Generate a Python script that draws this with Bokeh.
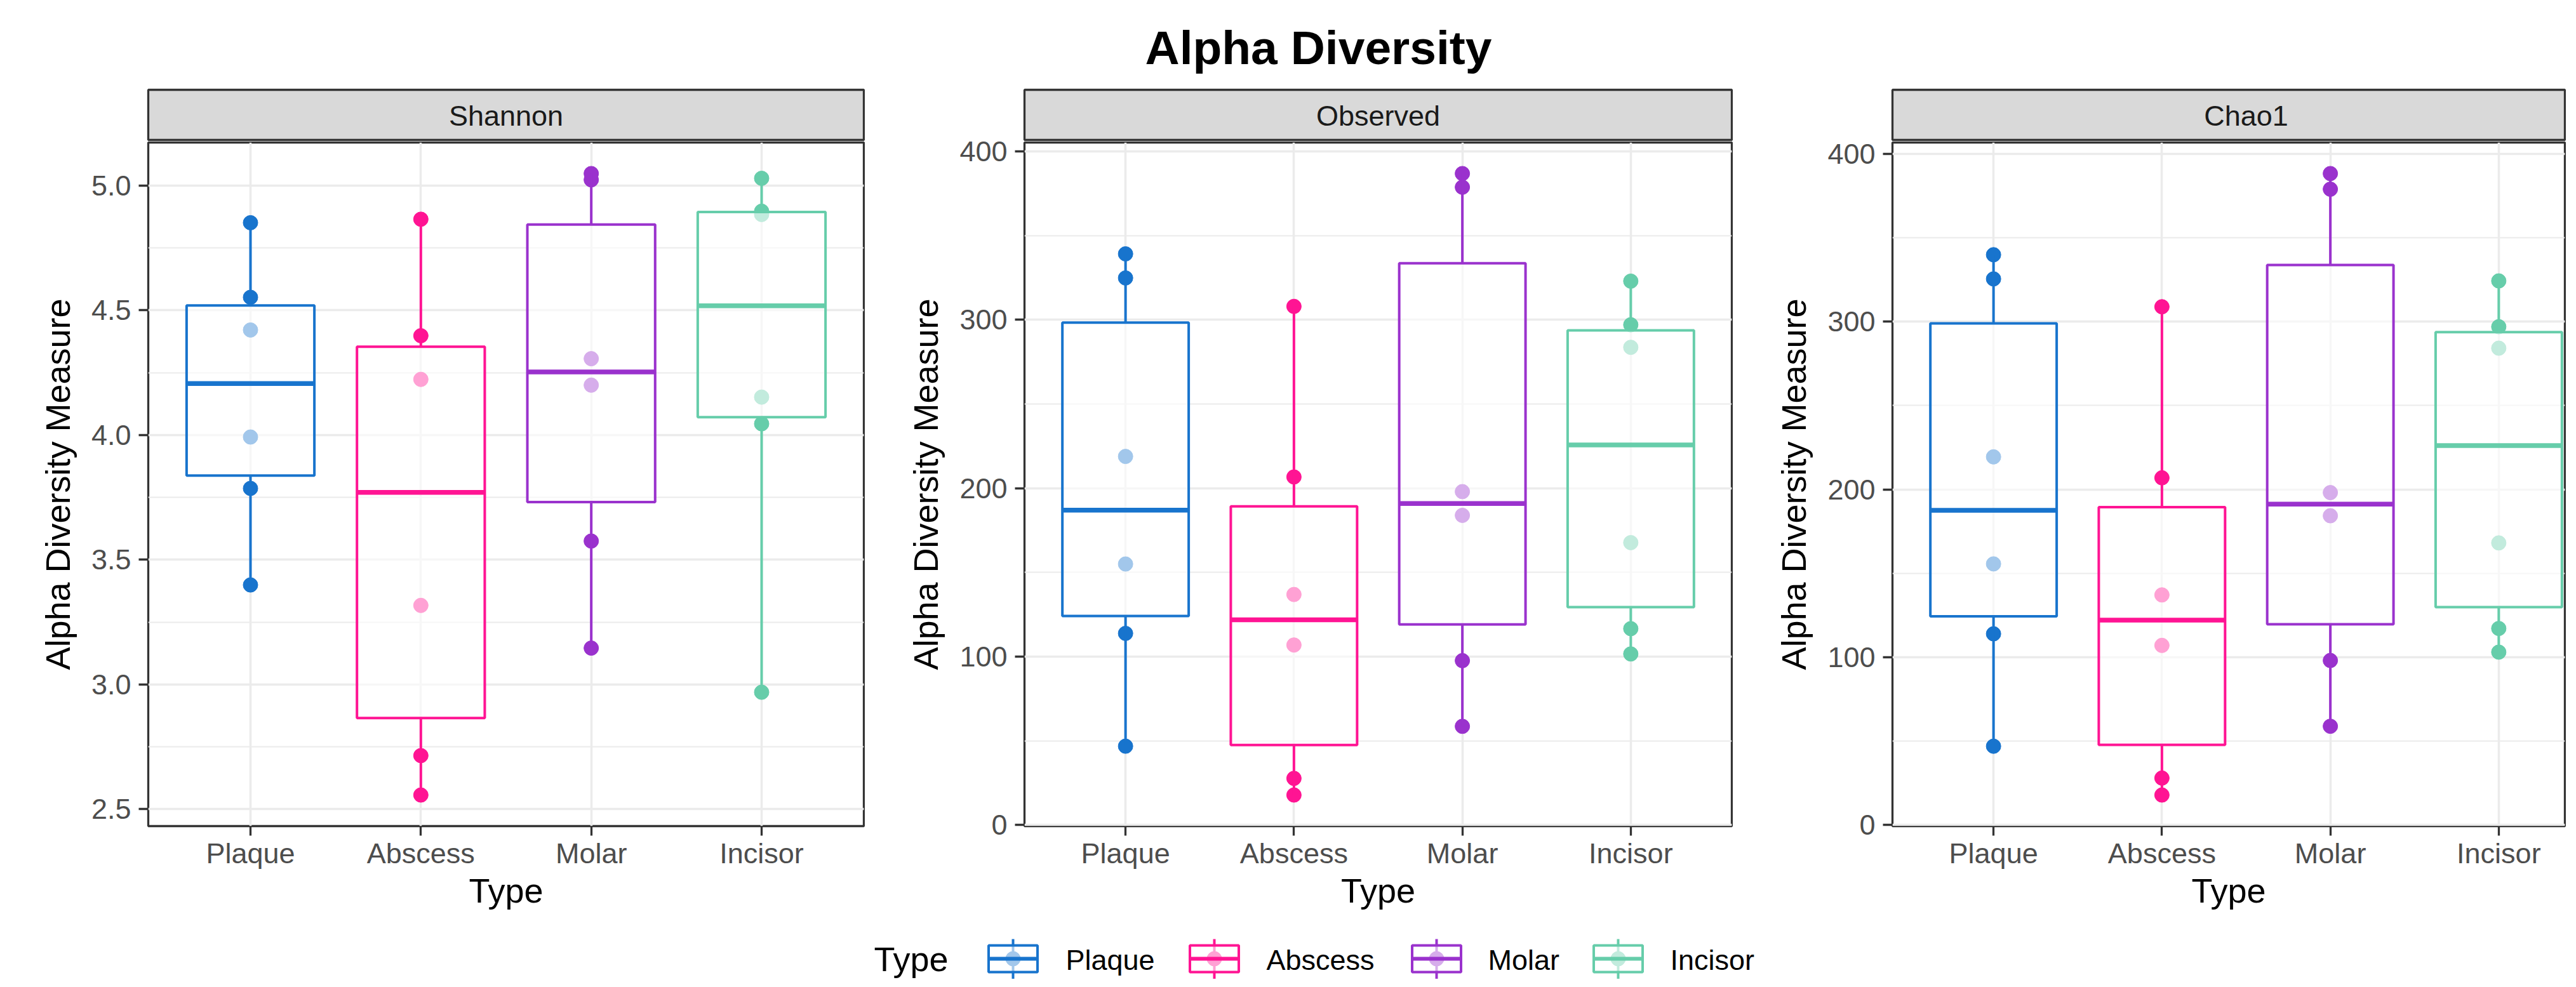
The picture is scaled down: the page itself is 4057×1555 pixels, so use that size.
import numpy as np
from bokeh.plotting import figure
from bokeh.models import (ColumnDataSource, Range1d, FixedTicker,
                          SingleIntervalTicker, NumeralTickFormatter)
from bokeh.layouts import column, row
from bokeh.core.properties import value
from bokeh.embed import file_html
from bokeh.resources import INLINE

# ---------------- data ----------------
TITLE = "Alpha Diversity"
CATEGORIES = ["Plaque", "Abscess", "Molar", "Incisor"]
COLORS = ["#1874CD", "#FF1493", "#9A32CD", "#66CDAA"]
METRICS = ["Shannon", "Observed", "Chao1"]
Y_TITLE = "Alpha Diversity Measure"
X_TITLE = "Type"
LEGEND_TITLE = "Type"

shannon = [
    [3.399, 3.786, 3.992, 4.421, 4.552, 4.851],   # Plaque
    [2.557, 2.715, 3.317, 4.223, 4.398, 4.865],   # Abscess
    [3.146, 3.575, 4.200, 4.306, 5.023, 5.048],   # Molar
    [2.969, 4.045, 4.152, 4.884, 4.897, 5.029],   # Incisor
]
observed = [
    [46.8, 113.8, 155.0, 218.9, 324.9, 339.2],
    [17.8, 27.7, 106.9, 136.9, 206.7, 308.0],
    [58.6, 97.6, 183.9, 198.0, 378.8, 386.9],
    [101.6, 116.6, 167.7, 283.7, 297.1, 323.0],
]
chao1 = [
    [46.9, 113.9, 155.6, 219.4, 325.5, 339.9],
    [17.8, 27.9, 107.0, 137.1, 206.9, 308.9],
    [58.8, 98.0, 184.3, 198.1, 379.0, 388.3],
    [103.0, 117.1, 168.1, 284.2, 297.0, 324.3],
]
METRIC_VALUES = [shannon, observed, chao1]
TICK_INTERVAL = [0.5, 100, 100]
TICK_FORMAT = ["0.0", "0", "0"]

# ---------------- layout / style ----------------
FONT = "Liberation Sans"
BORDER_L = [233, 251, 251]
FRAME_W = [1127, 1114, 1059]
FULL_W = [1127, 1114, 1114]
FRAME_H = 1077
BORDER_R = 2
TOTAL_W = 4041
GRID = "#EBEBEB"
DARK = "#333333"
LW = 4
OVERLAP = 24


def box_stats(vals):
    v = np.sort(np.asarray(vals, float))
    q1, med, q3 = np.quantile(v, [0.25, 0.5, 0.75])
    iqr = q3 - q1
    lo = v[v >= q1 - 1.5 * iqr].min()
    hi = v[v <= q3 + 1.5 * iqr].max()
    return q1, med, q3, lo, hi


def make_panel(i):
    metric = METRICS[i]
    values = METRIC_VALUES[i]
    n = len(CATEGORIES)
    xs = [k + 1 for k in range(n)]
    spacing = FULL_W[i] / (n + 0.2)
    x_start = 0.4
    x_end = x_start + FRAME_W[i] / spacing
    allv = np.concatenate([np.asarray(v, float) for v in values])
    span = allv.max() - allv.min()
    y0, y1 = allv.min() - 0.05 * span, allv.max() + 0.05 * span

    xr = Range1d(x_start, x_end)

    # strip
    s = figure(frame_width=FRAME_W[i], frame_height=79,
               min_border_left=BORDER_L[i], min_border_right=BORDER_R,
               min_border_top=2, min_border_bottom=2,
               x_range=xr, y_range=Range1d(220, 141),
               x_axis_type=None, y_axis_type=None,
               output_backend="svg", toolbar_location=None)
    s.background_fill_color = "#D9D9D9"
    s.border_fill_color = "white"
    s.outline_line_color = DARK
    s.outline_line_width = 3.3
    s.text(x=[(n + 1) / 2], y=[182], text=[metric],
           text_font=value(FONT), text_font_size="45px", text_color="#1A1A1A",
           text_align="center", text_baseline="alphabetic")

    # main panel (its canvas reaches up under the strip, transparent there,
    # so the top tick label is not clipped)
    p = figure(frame_width=FRAME_W[i], frame_height=FRAME_H,
               min_border_left=BORDER_L[i], min_border_right=BORDER_R,
               min_border_top=2 + OVERLAP, min_border_bottom=131,
               margin=(-OVERLAP, 0, 0, 0),
               x_range=xr, y_range=Range1d(y0, y1),
               output_backend="svg", toolbar_location=None)
    p.background_fill_color = "white"
    p.border_fill_color = None
    p.outline_line_color = DARK
    p.outline_line_width = 3.3

    # points
    px, py, pc = [], [], []
    for k, vals in enumerate(values):
        for v in vals:
            px.append(xs[k]); py.append(v); pc.append(COLORS[k])
    p.scatter(x="x", y="y", color="c", size=23,
              source=ColumnDataSource(dict(x=px, y=py, c=pc)))

    # boxplots
    st = [box_stats(v) for v in values]
    half = 0.375
    src = ColumnDataSource(dict(
        x=xs, left=[x - half for x in xs], right=[x + half for x in xs],
        q1=[a[0] for a in st], med=[a[1] for a in st], q3=[a[2] for a in st],
        lo=[a[3] for a in st], hi=[a[4] for a in st], c=COLORS))
    p.segment(x0="x", y0="lo", x1="x", y1="q1", line_color="c", line_width=LW, source=src)
    p.segment(x0="x", y0="q3", x1="x", y1="hi", line_color="c", line_width=LW, source=src)
    p.quad(left="left", right="right", bottom="q1", top="q3",
           fill_color="white", fill_alpha=0.6, line_color="c", line_width=LW, source=src)
    p.segment(x0="left", y0="med", x1="right", y1="med", line_color="c",
              line_width=7.5, source=src)

    # axes
    p.xaxis.ticker = FixedTicker(ticks=xs)
    p.xaxis.major_label_overrides = {x: c for x, c in zip(xs, CATEGORIES)}
    yt = SingleIntervalTicker(interval=TICK_INTERVAL[i], num_minor_ticks=2)
    p.yaxis.ticker = yt
    p.ygrid.ticker = yt
    p.yaxis.formatter = NumeralTickFormatter(format=TICK_FORMAT[i])
    p.xaxis.axis_label = X_TITLE
    p.yaxis.axis_label = Y_TITLE
    for ax in (p.xaxis[0], p.yaxis[0]):
        ax.axis_line_color = None
        ax.major_tick_line_color = DARK
        ax.major_tick_line_width = 3.3
        ax.major_tick_out = 15
        ax.major_tick_in = 0
        ax.minor_tick_line_color = None
        ax.major_label_text_font = FONT
        ax.major_label_text_font_size = "45px"
        ax.major_label_text_color = "#4D4D4D"
        ax.axis_label_text_font = FONT
        ax.axis_label_text_font_size = "54px"
        ax.axis_label_text_font_style = "normal"
        ax.axis_label_text_color = "black"
    p.xaxis.major_label_standoff = 2
    p.xaxis.axis_label_standoff = 0
    p.yaxis.major_label_standoff = 12
    p.yaxis.axis_label_standoff = 20

    p.xgrid.grid_line_color = GRID
    p.xgrid.grid_line_width = 3.5
    p.ygrid.grid_line_color = GRID
    p.ygrid.grid_line_width = 3.5
    p.ygrid.minor_grid_line_color = GRID
    p.ygrid.minor_grid_line_width = 1.8
    return column(s, p, spacing=0)


panels = [make_panel(i) for i in range(len(METRICS))]

# ---------------- title ----------------
t = figure(width=TOTAL_W, height=139, x_range=Range1d(0, TOTAL_W),
           y_range=Range1d(139, 0), x_axis_type=None, y_axis_type=None,
           min_border=0, output_backend="svg", toolbar_location=None)
t.outline_line_color = None
t.text(x=[2076], y=[74], text=[TITLE], text_font=value(FONT),
       text_font_size="75px", text_font_style="bold", text_color="black",
       text_align="center", text_baseline="alphabetic")

# ---------------- legend ----------------
LEG_KEY_X = [1595, 1912, 2262, 2548]
LEG_LABEL_X = [1678, 1994, 2343, 2630]
lg = figure(width=TOTAL_W, height=107, x_range=Range1d(0, TOTAL_W),
            y_range=Range1d(1539, 1432), x_axis_type=None, y_axis_type=None,
            min_border=0, output_backend="svg", toolbar_location=None)
lg.outline_line_color = None
kh = 38.5
ksrc = ColumnDataSource(dict(
    x=LEG_KEY_X, l=[x - kh for x in LEG_KEY_X], r=[x + kh for x in LEG_KEY_X],
    c=COLORS, lx=LEG_LABEL_X, lab=CATEGORIES))
lg.segment(x0="x", y0=1476, x1="x", y1=1547, line_color="c", line_width=LW, source=ksrc)
lg.scatter(x="x", y=1507, color="c", size=23, source=ksrc)
lg.quad(left="l", right="r", bottom=1528, top=1486, fill_color="white",
        fill_alpha=0.6, line_color="c", line_width=LW, source=ksrc)
lg.segment(x0="l", y0=1507, x1="r", y1=1507, line_color="c", line_width=6, source=ksrc)
lg.text(x="lx", y=1509, text="lab", text_font=value(FONT), text_font_size="45px",
        text_color="black", text_align="left", text_baseline="alphabetic", source=ksrc)
lg.text(x=[1376], y=[1507], text=[LEGEND_TITLE], text_font=value(FONT),
        text_font_size="54px", text_color="black", text_align="left",
        text_baseline="alphabetic")

layout = column(t, row(*panels, spacing=0), lg, spacing=0)
open("out.html", "w").write(file_html(layout, INLINE))
